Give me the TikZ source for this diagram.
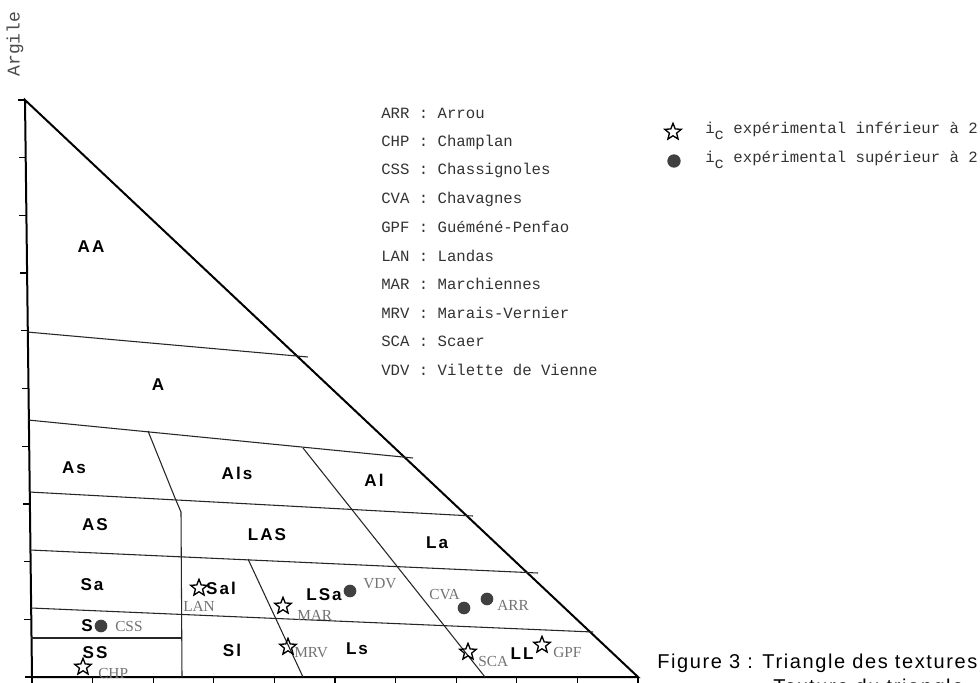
\documentclass[tikz,border=0pt]{standalone}
\usepackage{fontspec}
\setmainfont{Liberation Serif}
\newfontfamily\labfont[LetterSpace=12]{Liberation Sans}
\newfontfamily\monofont{Liberation Mono}
\newfontfamily\capfont[LetterSpace=8]{Liberation Sans}
\usetikzlibrary{shapes.geometric}
\tikzset{
  region/.style={font=\labfont\bfseries\fontsize{12.8}{14}\selectfont, inner sep=0},
  site/.style={font=\fontsize{11.5}{12}\selectfont, text=black!55, inner sep=0, anchor=west},
  legend/.style={font=\monofont\fontsize{11.75}{13}\selectfont, text=black!80, anchor=west, inner sep=0},
  lowstar/.style={star, star points=5, star point ratio=2.3, draw, line width=1pt, minimum size=13pt, inner sep=0},
  highdot/.style={circle, fill=black!75, minimum size=9.5pt, inner sep=0},
  border/.style={line width=1.5pt},
  zone/.style={line width=0.8pt, black!85},
  tick/.style={line width=1pt}
}
\begin{document}
\begin{tikzpicture}[x=0.75pt,y=-0.75pt]
\useasboundingbox (0,0) rectangle (980,682);
\fill[white] (0,0) rectangle (980,682);

% axis label
\node[font=\monofont\fontsize{13.5}{14}\selectfont, text=black!70, rotate=90, inner sep=0] (argile) at (15,44) {Argile};

% triangle outline
\draw[border] (25,100) -- (32,677) -- (638,677) -- cycle;

% left axis ticks
\foreach \k in {0,...,10}{
  \pgfmathsetmacro{\yy}{100+57.7*\k}
  \pgfmathsetmacro{\xx}{25+7*(\yy-100)/577}
  \draw[tick] (\xx,\yy) -- ++(-7,0);
}
% bottom axis ticks
\foreach \k in {0,...,10}{
  \pgfmathsetmacro{\xx}{32+60.6*\k}
  \draw[tick] (\xx,677) -- ++(0,8);
}

% zone boundaries (clay levels)
\draw[zone] (27,332) -- (308,357);
\draw[zone] (28,420) -- (413,458);
\draw[zone] (29,492) -- (473,516);
\draw[zone] (30,550) -- (538,573);
\draw[zone] (31,608) -- (593,632);
\draw[zone] (31,638) -- (182,638);
% zone boundaries (silt levels)
\draw[zone] (148,431) -- (175,498) -- (181,512) -- (182,677);
\draw[zone] (303,448) -- (485,677);
\draw[zone] (248,559) -- (303,677);

% region labels
\node[region] (AA)  at (91,247)  {AA};
\node[region] (A)   at (158,385) {A};
\node[region] (As)  at (74,468)  {As};
\node[region] (Als) at (237,473) {Als};
\node[region] (Al)  at (374,480) {Al};
\node[region] (AS)  at (95,525)  {AS};
\node[region] (LAS) at (267,535) {LAS};
\node[region] (La)  at (437,543) {La};
\node[region] (Sa)  at (92,585)  {Sa};
\node[region] (Sal) at (221,588) {Sal};
\node[region] (LSa) at (324,595) {LSa};
\node[region] (S)   at (87,626)  {S};
\node[region] (SS)  at (95,653)  {SS};
\node[region] (Sl)  at (232,650) {Sl};
\node[region] (Ls)  at (357,649) {Ls};
\node[region] (LL)  at (522,654) {LL};

% sites
\node[lowstar] (mLAN) at (199,588) {};
\node[site] (tLAN) at (183,606) {LAN};
\node[lowstar] (mMAR) at (283,606) {};
\node[site] (tMAR) at (297,615) {MAR};
\node[highdot] (mVDV) at (350,591) {};
\node[site] (tVDV) at (363,584) {VDV};
\node[highdot] (mCVA) at (464,608) {};
\node[site] (tCVA) at (429,595) {CVA};
\node[highdot] (mARR) at (487,599) {};
\node[site] (tARR) at (497,605) {ARR};
\node[highdot] (mCSS) at (101,626) {};
\node[site] (tCSS) at (115,626) {CSS};
\node[lowstar] (mCHP) at (83,667) {};
\node[site] (tCHP) at (98,673) {CHP};
\node[lowstar] (mMRV) at (288,647) {};
\node[site] (tMRV) at (294,653) {MRV};
\node[lowstar] (mSCA) at (468,652) {};
\node[site] (tSCA) at (478,661) {SCA};
\node[lowstar] (mGPF) at (542,645) {};
\node[site] (tGPF) at (553,652) {GPF};

% legend of sites
\node[legend] (l1)  at (381,113) {ARR : Arrou};
\node[legend] (l2)  at (381,142) {CHP : Champlan};
\node[legend] (l3)  at (381,170) {CSS : Chassignoles};
\node[legend] (l4)  at (381,199) {CVA : Chavagnes};
\node[legend] (l5)  at (381,227) {GPF : Guéméné-Penfao};
\node[legend] (l6)  at (381,256) {LAN : Landas};
\node[legend] (l7)  at (381,284) {MAR : Marchiennes};
\node[legend] (l8)  at (381,313) {MRV : Marais-Vernier};
\node[legend] (l9)  at (381,341) {SCA : Scaer};
\node[legend] (l10) at (381,370) {VDV : Vilette de Vienne};

% legend of symbols
\node[lowstar] (kstar) at (673,132) {};
\node[legend] (kstart) at (705,131) {i\raisebox{-4pt}{c} expérimental inférieur à 2};
\node[highdot, minimum size=10pt] (kdot) at (674,161) {};
\node[legend] (kdott) at (705,160) {i\raisebox{-4pt}{c} expérimental supérieur à 2};

% caption
\node[font=\capfont\fontsize{15}{18}\selectfont, anchor=west, inner sep=0] (cap1) at (657,663) {Figure 3 : Triangle des textures};
\node[font=\capfont\fontsize{15}{18}\selectfont, anchor=base west, inner sep=0] (cap2) at (773,693) {Texture du triangle};
\end{tikzpicture}
\end{document}
